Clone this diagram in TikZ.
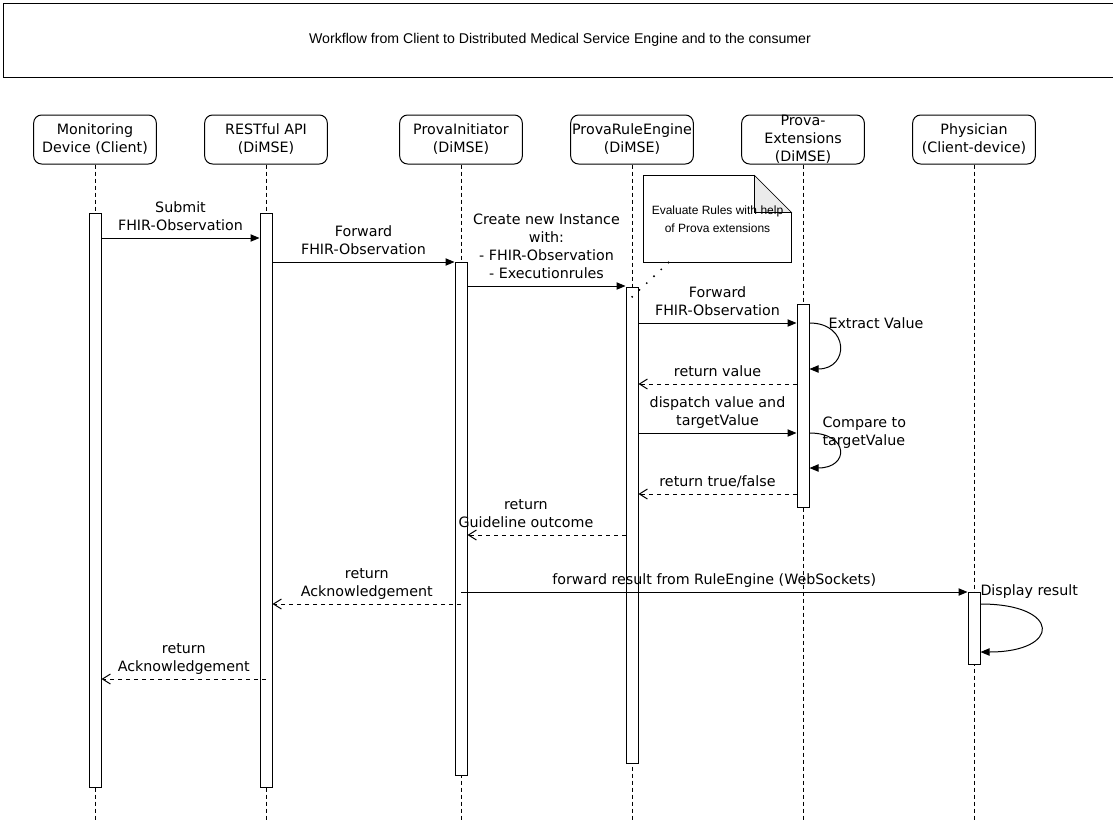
\documentclass[tikz,border=0pt]{standalone}
\usepackage{fontspec}
\setmainfont{DejaVu Sans}
\newfontfamily\helvfont{Liberation Sans}
\usetikzlibrary{arrows.meta, positioning, backgrounds}
\definecolor{foldGray}{RGB}{235,235,235}

\begin{document}
\begin{tikzpicture}[x=0.75pt, y=-0.75pt, line width=0.75pt,
	every node/.style={font=\fontsize{10.7}{13.5}\selectfont},
	actor/.style={draw, rounded corners=6pt, minimum width=92pt, minimum height=36.75pt, inner sep=0pt, align=center},
	lifeline/.style={dash pattern=on 3pt off 2.25pt},
	actbar/.style={draw, fill=white, minimum width=9pt, minimum height=#1*0.75pt, inner sep=0pt, anchor=north},
	call/.style={-{Triangle[length=6.75pt, width=5.5pt]}},
	reply/.style={dash pattern=on 3pt off 3pt, -{Straight Barb[length=6pt, width=7.5pt]}},
	msg/.style={above=2.6pt, inner sep=0pt, text depth=2.5pt, align=center},
	side/.style={anchor=west, inner sep=0pt, align=left},
	notebox/.style={font=\helvfont\fontsize{9}{13.5}\selectfont, minimum width=110.25pt, minimum height=64.5pt, inner sep=0pt, align=center},
	dotlink/.style={line width=1.6pt, line cap=round, dash pattern=on 0pt off 7.5pt},
	]
	\useasboundingbox (0,0) rectangle (1113,821);
	\clip (0,0) rectangle (1113,821);
	% Title frame
	\node[draw, minimum width=834.75pt, minimum height=55.5pt, inner sep=0pt, font=\helvfont\fontsize{10.6}{12}\selectfont]
		(title) at (560,40) {Workflow from Client to Distributed Medical Service Engine and to the consumer};
	% Participants and lifelines
	\coordinate (bottom) at (0,821);
	\foreach \name/\x/\txt in {Client/95/{Monitoring\\Device (Client)},
		Rest/266/{RESTful API\\(DiMSE)},
		Init/461/{ProvaInitiator\\(DiMSE)},
		Engine/632/{ProvaRuleEngine\\(DiMSE)},
		Ext/803/{Prova-\\Extensions\\(DiMSE)},
		Phys/974/{Physician\\(Client-device)}} {
		\node[actor] (hdr\name) at (\x,139.5) {\txt};
		\draw[lifeline] (hdr\name.south) -- (hdr\name.south |- bottom);
	}
	% Activation bars
	\node[actbar=574] (barClient) at (95,213) {};
	\node[actbar=574] (barRest) at (266,213) {};
	\node[actbar=513] (barInit) at (461,262) {};
	\node[actbar=476] (barEngine) at (632,287) {};
	\node[actbar=203] (barExt) at (803,304) {};
	\node[actbar=72] (barPhys) at (974,592) {};
	% Message heights
	\coordinate (m1) at (0,238);
	\coordinate (m2) at (0,262);
	\coordinate (m3) at (0,286);
	\coordinate (m4) at (0,323);
	\coordinate (m5) at (0,369);
	\coordinate (m6) at (0,384);
	\coordinate (m7) at (0,433);
	\coordinate (m8) at (0,468);
	\coordinate (m9) at (0,494);
	\coordinate (m10) at (0,535);
	\coordinate (m11) at (0,592);
	\coordinate (m12) at (0,604);
	\coordinate (m13) at (0,652);
	\coordinate (m14) at (0,679);
	% Calls and replies
	\draw[call] (barClient.east |- m1) -- node[msg] {Submit\\FHIR-Observation} (barRest.west |- m1);
	\draw[call] (barRest.east |- m2) -- node[msg] {Forward\\FHIR-Observation} (barInit.west |- m2);
	\draw[call] (barInit.east |- m3) -- node[msg] {Create new Instance\\with:\\- FHIR-Observation\\- Executionrules} (barEngine.west |- m3);
	\draw[call] (barEngine.east |- m4) -- node[msg] {Forward\\FHIR-Observation} (barExt.west |- m4);
	\draw[call] (barExt.east |- m4) .. controls +(40,0) and +(40,0) .. (barExt.east |- m5);
	\node[side] (lblExtract) at (828,323) {Extract Value};
	\draw[reply] (barExt.west |- m6) -- node[msg] {return value} (barEngine.east |- m6);
	\draw[call] (barEngine.east |- m7) -- node[msg] {dispatch value and\\targetValue} (barExt.west |- m7);
	\draw[call] (barExt.east |- m7) .. controls +(40,0) and +(40,0) .. (barExt.east |- m8);
	\node[side] (lblCompare) at (822,433) {Compare to\\targetValue};
	\draw[reply] (barExt.west |- m9) -- node[msg] {return true/false} (barEngine.east |- m9);
	\draw[reply] (barEngine.west |- m10) -- node[msg, pos=0.63] {return\\Guideline outcome} (barInit.east |- m10);
	\draw[call] (barInit |- m11) -- node[msg] {forward result from RuleEngine (WebSockets)} (barPhys.west |- m11);
	\draw[reply] (barInit |- m12) -- node[msg] {return\\Acknowledgement} (barRest.east |- m12);
	\draw[call] (barPhys.east |- m12) .. controls +(81,0) and +(81,0) .. (barPhys.east |- m13);
	\node[side] (lblDisplay) at (980,592) {Display result};
	\draw[reply] (barRest |- m14) -- node[msg] {return\\Acknowledgement} (barClient.east |- m14);
	% Note on the rule engine
	\node[notebox] (note) at (717.5,219) {Evaluate Rules with help\\of Prova extensions};
	\begin{scope}[on background layer]
		\draw[fill=white] (note.north west) -- ([xshift=-27.75pt]note.north east) -- ([yshift=-27.75pt]note.north east)
			-- (note.south east) -- (note.south west) -- cycle;
		\draw[fill=foldGray] ([xshift=-27.75pt]note.north east) -- ([xshift=-27.75pt, yshift=-27.75pt]note.north east)
			-- ([yshift=-27.75pt]note.north east) -- cycle;
	\end{scope}
	\draw[dotlink] ([xshift=18.75pt]note.south west) -- ([yshift=-7.5pt]barEngine.north);
\end{tikzpicture}
\end{document}
